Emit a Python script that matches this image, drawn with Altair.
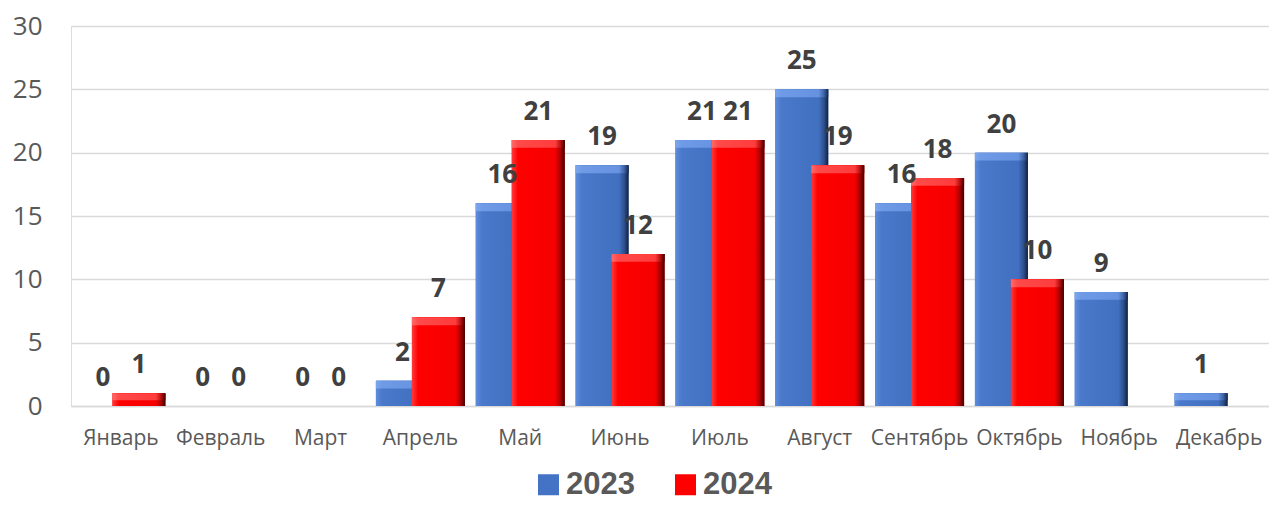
import altair as alt
import pandas as pd

months = ["Январь", "Февраль", "Март", "Апрель", "Май", "Июнь",
          "Июль", "Август", "Сентябрь", "Октябрь", "Ноябрь", "Декабрь"]
v2023 = [0, 0, 0, 2, 16, 19, 21, 25, 16, 20, 9, 1]
v2024 = [1, 0, 0, 7, 21, 12, 21, 19, 18, 10, None, None]
years = ["2023", "2024"]
colors = ["#4472C4", "#FF0000"]

rows = []
for m, a, b in zip(months, v2023, v2024):
    rows.append({"month": m, "year": "2023", "value": a})
    if b is not None:
        rows.append({"month": m, "year": "2024", "value": b})
df = pd.DataFrame(rows)

FONT = "Open Sans"
BAR_W = 53
OFF = 18

x_enc = alt.X("month:N", sort=months, title=None,
              scale=alt.Scale(paddingInner=0, paddingOuter=0),
              axis=alt.Axis(labelFontSize=21, labelColor="#595959", labelFont=FONT,
                            labelAngle=0, ticks=False, domainColor="#d9d9d9",
                            domainWidth=1.5, labelPadding=21, grid=False))
y_enc = alt.Y("value:Q", title=None,
              scale=alt.Scale(domain=[0, 30], nice=False),
              axis=alt.Axis(values=[0, 5, 10, 15, 20, 25, 30], labelFontSize=26,
                            labelColor="#595959", labelFont=FONT, ticks=False,
                            domain=False, gridColor="#d9d9d9", gridWidth=1.5,
                            labelPadding=29))

color_enc = alt.Color("year:N", scale=alt.Scale(domain=years, range=colors),
                      legend=alt.Legend(title=None, orient="none", direction="horizontal",
                                        legendX=462, legendY=443, symbolType="square",
                                        symbolSize=441, labelFontSize=31,
                                        labelFont="Liberation Sans", labelFontWeight="bold",
                                        labelColor="#595959", columnPadding=35,
                                        labelOffset=2, symbolStrokeWidth=0))


def hgrad(c0, c1, c2, c3, c4):
    return alt.Gradient(gradient="linear", x1=0, x2=1, y1=0, y2=0, stops=[
        alt.GradientStop(color=c0, offset=0),
        alt.GradientStop(color=c1, offset=0.12),
        alt.GradientStop(color=c2, offset=0.82),
        alt.GradientStop(color=c3, offset=0.92),
        alt.GradientStop(color=c4, offset=1)])


grad_blue = hgrad("#5f8ddc", "#4a78ca", "#4270c0", "#2d4f8c", "#10203f")
grad_red = hgrad("#ff3a3a", "#ff0000", "#f50000", "#a80000", "#3a0000")
top_blue = hgrad("#7da6ec", "#6e9ae6", "#6692e0", "#3e62a4", "#14254a")
top_red = hgrad("#ff6a6a", "#ff4a4a", "#ff3c3c", "#b81010", "#400000")

base = alt.Chart(df)
layers = []
for yr, off, grad, tgrad in [("2023", -OFF, grad_blue, top_blue),
                             ("2024", OFF, grad_red, top_red)]:
    sub = base.transform_filter(alt.datum.year == yr)
    layers.append(sub.mark_bar(width=BAR_W, xOffset=off).encode(x=x_enc, y=y_enc, color=color_enc))
    layers.append(sub.mark_bar(width=BAR_W, xOffset=off, fill=grad).encode(x=x_enc, y=y_enc))
    layers.append(
        sub.transform_filter(alt.datum.value > 0)
        .transform_calculate(bevel="max(datum.value - 0.62, datum.value * 0.45)")
        .mark_bar(width=BAR_W, xOffset=off, fill=tgrad)
        .encode(x=x_enc, y=y_enc, y2="bevel:Q"))
for yr, off in [("2023", -OFF), ("2024", OFF)]:
    sub = base.transform_filter(alt.datum.year == yr)
    layers.append(sub.mark_text(xOffset=off, dy=-20, baseline="alphabetic", font=FONT,
                                fontSize=26, fontWeight="bold", color="#404040")
                  .encode(x=x_enc, y=y_enc, text=alt.Text("value:Q")))

chart = alt.layer(*layers).properties(
    width=1198, height=380,
    autosize=alt.AutoSizeParams(type="none"),
    padding={"left": 63, "top": 18, "right": 0, "bottom": 97},
).configure_view(stroke=None).configure(background="white")

chart.save("out.html", embed_options={"renderer": "svg", "actions": False})
